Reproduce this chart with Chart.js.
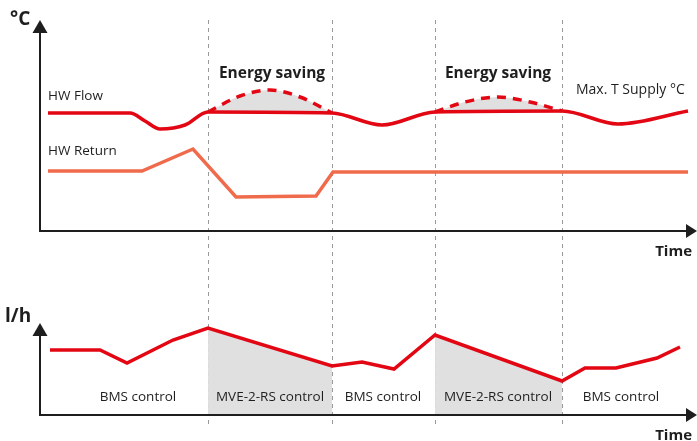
<!DOCTYPE html>
<html><head><meta charset="utf-8">
<script src="https://cdn.jsdelivr.net/npm/chart.js@4.4.1/dist/chart.umd.min.js"></script>
<style>html,body{margin:0;padding:0;background:#fff}#wrap{width:697px;height:441px;position:relative}</style>
</head><body><div id="wrap"><canvas id="c"></canvas></div>
<script>
// ---- data (time units along x; temperature and flow in arbitrary units) ----
const flowTime   = [48,130,145,160,185,208,332,382,435,562,618,688];
const flowTemp   = [59,59,55,51,53,59.5,59,53,59.5,60,53.5,60];
const save1Time  = [208,240,270,300,332];
const save1Temp  = [59.5,67.5,70.5,67,59];
const save2Time  = [435,465,498,530,562];
const save2Temp  = [59.5,64.5,67,64.5,60];
const returnTime = [48,142,193,236,316,333,688];
const returnTemp = [30,30,41,17,17.5,29.5,29.5];
const lhTime     = [50,100,127,173,208,332,362,394,435,562,585,616,657,680];
const lhValue    = [32.5,32.5,26,37.5,43.5,24.5,26.5,23,40,17,23.5,23.5,28.5,34];
const boundaries = [208,332,435,562];
const regionLabels = ['BMS control','MVE-2-RS control','BMS control','MVE-2-RS control','BMS control'];
const regionLabelX = [138,270,383,498,621];
const savingLabelX = [272,498];

const RED='#e30613', ORANGE='#ef6b4b', GREY='rgba(222,222,222,0.95)', INK='#1e1e1e';
const FONT='"Open Sans", "Noto Sans", sans-serif';
const pts=(xs,ys)=>xs.map((x,i)=>({x,y:ys[i]}));
const lhIn=(a,b)=>lhTime.map((t,i)=>({x:t,y:lhValue[i]})).filter(p=>p.x>=a&&p.x<=b);

const decor={id:'decor',
 beforeDatasetsDraw(ch){
  const {ctx,scales:{x,yT,yF}}=ch;
  ctx.save();ctx.strokeStyle='#9a9a9a';ctx.lineWidth=1;ctx.setLineDash([4,4]);
  boundaries.forEach(b=>{const px=Math.round(x.getPixelForValue(b))+0.5;ctx.beginPath();ctx.moveTo(px,yT.getPixelForValue(105.5));ctx.lineTo(px,yF.getPixelForValue(-5));ctx.stroke();});
  ctx.restore();
 },
 afterDatasetsDraw(ch){
  const {ctx,scales:{x,yT,yF}}=ch;
  ctx.save();
  ctx.strokeStyle=INK;ctx.fillStyle=INK;ctx.lineWidth=2;ctx.setLineDash([]);
  const axes=(ys,tipY)=>{
   const ox=x.getPixelForValue(40), oy=ys.getPixelForValue(0), ty=ys.getPixelForValue(tipY), tx=x.getPixelForValue(697);
   ctx.beginPath();ctx.moveTo(ox,ty+10);ctx.lineTo(ox,oy);ctx.lineTo(tx-8,oy);ctx.stroke();
   ctx.beginPath();ctx.moveTo(ox,ty);ctx.lineTo(ox-7.5,ty+13);ctx.lineTo(ox+7.5,ty+13);ctx.closePath();ctx.fill();
   ctx.beginPath();ctx.moveTo(tx,oy);ctx.lineTo(tx-11,oy-7);ctx.lineTo(tx-11,oy+7);ctx.closePath();ctx.fill();
  };
  axes(yT,105.5);axes(yF,46);
  const txt=(s,xv,py,font,align)=>{ctx.font=font;ctx.textAlign=align||'left';ctx.textBaseline='alphabetic';ctx.fillText(s,x.getPixelForValue(xv),py);};
  txt('°C',10,yT.getPixelForValue(103),'bold 19px '+FONT);
  txt('l/h',5,yF.getPixelForValue(46.5),'bold 19px '+FONT);
  txt('HW Flow',48,yT.getPixelForValue(65.5),'13.5px '+FONT);
  txt('HW Return',48,yT.getPixelForValue(38),'13.5px '+FONT);
  savingLabelX.forEach(v=>txt('Energy saving',v,yT.getPixelForValue(76.5),'bold 15.5px '+FONT,'center'));
  txt('Max. T Supply °C',576,yT.getPixelForValue(68.5),'14px '+FONT);
  txt('Time',692,yT.getPixelForValue(-12.5),'bold 15px '+FONT,'right');
  txt('Time',692,yF.getPixelForValue(-12.5),'bold 15px '+FONT,'right');
  regionLabels.forEach((s,i)=>txt(s,regionLabelX[i],yF.getPixelForValue(7),'13.5px '+FONT,'center'));
  ctx.restore();
 }};

new Chart(document.getElementById('c'),{
 type:'line',
 data:{datasets:[
  {label:'fill1',data:pts(save1Time,save1Temp),yAxisID:'yT',borderWidth:0,fill:{value:59.3},backgroundColor:GREY,pointRadius:0,cubicInterpolationMode:'monotone',order:10},
  {label:'fill2',data:pts(save2Time,save2Temp),yAxisID:'yT',borderWidth:0,fill:{value:59.7},backgroundColor:GREY,pointRadius:0,cubicInterpolationMode:'monotone',order:10},
  {label:'fillB1',data:lhIn(boundaries[0],boundaries[1]),yAxisID:'yF',borderWidth:0,fill:{value:0},backgroundColor:GREY,pointRadius:0,order:10},
  {label:'fillB2',data:lhIn(boundaries[2],boundaries[3]),yAxisID:'yF',borderWidth:0,fill:{value:0},backgroundColor:GREY,pointRadius:0,order:10},
  {label:'Max. T Supply dashed 1',data:pts(save1Time,save1Temp),yAxisID:'yT',borderColor:RED,borderWidth:3.5,borderDash:[9,7],fill:false,pointRadius:0,cubicInterpolationMode:'monotone',order:2},
  {label:'Max. T Supply dashed 2',data:pts(save2Time,save2Temp),yAxisID:'yT',borderColor:RED,borderWidth:3.5,borderDash:[9,7],fill:false,pointRadius:0,cubicInterpolationMode:'monotone',order:2},
  {label:'HW Return',data:pts(returnTime,returnTemp),yAxisID:'yT',borderColor:ORANGE,borderWidth:3.5,fill:false,pointRadius:0,tension:0,order:1},
  {label:'HW Flow',data:pts(flowTime,flowTemp),yAxisID:'yT',borderColor:RED,borderWidth:3.5,fill:false,pointRadius:0,cubicInterpolationMode:'monotone',order:1},
  {label:'l/h',data:pts(lhTime,lhValue),yAxisID:'yF',borderColor:RED,borderWidth:3.5,fill:false,pointRadius:0,tension:0,borderJoinStyle:'miter',order:1}
 ]},
 options:{responsive:true,maintainAspectRatio:false,animation:false,events:[],
  layout:{padding:0},
  plugins:{legend:{display:false},tooltip:{enabled:false}},
  scales:{
   x:{type:'linear',min:0,max:697,display:false},
   yT:{type:'linear',min:-105,max:115.5,display:false},
   yF:{type:'linear',min:-13,max:207.5,display:false}
  }},
 plugins:[decor]
});
</script></body></html>
